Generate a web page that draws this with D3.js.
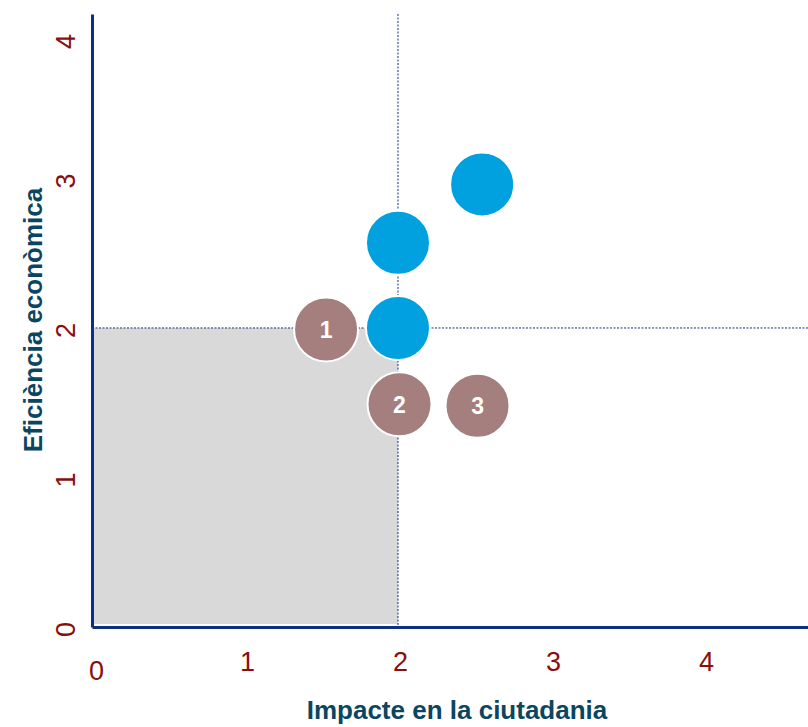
<!DOCTYPE html>
<html>
<head>
<meta charset="utf-8">
<script src="https://cdn.jsdelivr.net/npm/d3@7"></script>
<style>
  body { margin: 0; background: #fff; }
  text { font-family: "Liberation Sans", Arial, sans-serif; }
</style>
</head>
<body>
<div id="chart"></div>
<script>
// data
var xTicks = [0, 1, 2, 3, 4];
var yTicks = [0, 1, 2, 3, 4];
var blueX = [2.0, 2.0, 2.55];
var blueY = [2.0, 2.57, 2.96];
var brownX = [1.53, 2.01, 2.52];
var brownY = [1.99, 1.49, 1.48];
var brownLabels = ["1", "2", "3"];
var refX = 2, refY = 2;

var width = 808, height = 727;
var plotLeft = 92, plotRight = 808, plotTop = 14, plotBottom = 627;

var svg = d3.select("#chart").append("svg")
  .attr("width", width)
  .attr("height", height);

var x = d3.scaleLinear().domain([0, 4.68]).range([plotLeft, plotRight]);
var y = d3.scaleLinear().domain([0, 4.1]).range([plotBottom, plotTop]);

// grey quadrant
svg.append("rect")
  .attr("x", x(0) + 2)
  .attr("y", y(refY))
  .attr("width", x(refX) - x(0) - 2)
  .attr("height", y(0) - y(refY) - 3)
  .attr("fill", "#d9d9d9");

// dotted reference lines
svg.append("line")
  .attr("x1", x(refX)).attr("x2", x(refX))
  .attr("y1", plotTop).attr("y2", plotBottom)
  .attr("stroke", "#142f80").attr("stroke-width", 1)
  .attr("stroke-dasharray", "2,1.5");
svg.append("line")
  .attr("x1", plotLeft).attr("x2", plotRight)
  .attr("y1", y(refY)).attr("y2", y(refY))
  .attr("stroke", "#142f80").attr("stroke-width", 1)
  .attr("stroke-dasharray", "2,1.5");

// axes
var xAxis = svg.append("g")
  .attr("transform", "translate(0," + plotBottom + ")")
  .call(d3.axisBottom(x).tickValues(xTicks).tickSize(0).tickPadding(26).tickFormat(d3.format("d")));
var yAxis = svg.append("g")
  .attr("transform", "translate(" + plotLeft + ",0)")
  .call(d3.axisLeft(y).tickValues(yTicks).tickSize(0).tickFormat(d3.format("d")));

[xAxis, yAxis].forEach(function(g) {
  g.select(".domain").attr("stroke", "#0d2f85").attr("stroke-width", 3);
  g.selectAll("text")
    .attr("fill", "#8b0e0e")
    .style("font-size", "27px")
    .style("font-family", "'Liberation Sans', Arial, sans-serif");
});
xAxis.selectAll("text")
  .attr("dy", function(d) { return d === 0 ? "1.0em" : "0.68em"; })
  .attr("dx", function(d) { return d === 0 ? 4 : 2; });
yAxis.selectAll("text")
  .attr("text-anchor", "middle")
  .attr("x", 0).attr("dy", "0.35em")
  .attr("transform", function(d) {
    return "translate(-26," + (d === 4 ? 12 : 2) + ") rotate(-90)";
  });

// axis titles
svg.append("text")
  .attr("x", 457).attr("y", 719)
  .attr("text-anchor", "middle")
  .attr("fill", "#0b4660")
  .style("font-size", "26px").style("font-weight", "bold")
  .text("Impacte en la ciutadania");
svg.append("text")
  .attr("transform", "translate(42,320) rotate(-90)")
  .attr("text-anchor", "middle")
  .attr("fill", "#0b4660")
  .style("font-size", "26px").style("font-weight", "bold")
  .text("Eficiència econòmica");

// blue points
svg.append("g").selectAll("circle")
  .data(blueX.map(function(v, i) { return [v, blueY[i]]; }))
  .enter().append("circle")
  .attr("cx", function(d) { return x(d[0]); })
  .attr("cy", function(d) { return y(d[1]); })
  .attr("r", 32)
  .attr("fill", "#00a1de")
  .attr("stroke", "#fff").attr("stroke-width", 2);

// brown numbered points
var brown = svg.append("g").selectAll("g")
  .data(brownX.map(function(v, i) { return [v, brownY[i], brownLabels[i]]; }))
  .enter().append("g")
  .attr("transform", function(d) { return "translate(" + x(d[0]) + "," + y(d[1]) + ")"; });
brown.append("circle")
  .attr("r", 32)
  .attr("fill", "#a57f7d")
  .attr("stroke", "#fff").attr("stroke-width", 2);
brown.append("text")
  .attr("text-anchor", "middle")
  .attr("dy", "0.36em")
  .attr("fill", "#fff")
  .style("font-size", "23px").style("font-weight", "bold")
  .text(function(d) { return d[2]; });
</script>
</body>
</html>
